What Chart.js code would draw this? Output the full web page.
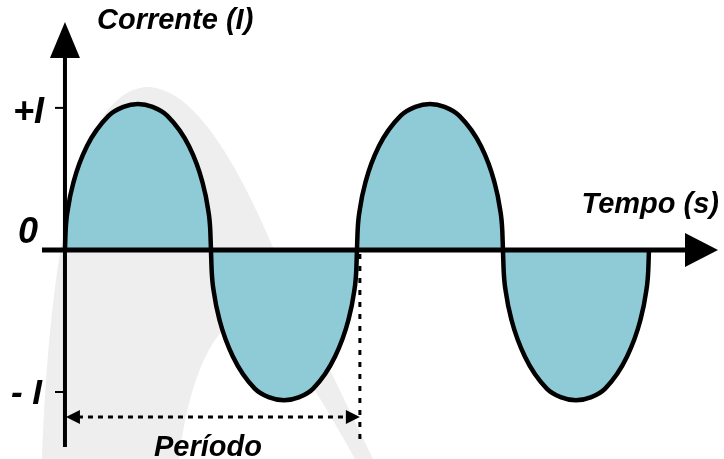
<!doctype html>
<html lang="pt">
<head>
    <meta charset="utf-8">
    <title>Corrente alternada - chartjs</title>
    <script src="https://cdn.jsdelivr.net/npm/chart.js"></script>
    <style>
        html, body { margin: 0; padding: 0; background: #fff; }
        #wrap { width: 724px; height: 459px; position: relative; }
    </style>
</head>
<body>
<div id="wrap"><canvas id="chart-0"></canvas></div>
<script>
    // tempo em meios períodos, corrente em unidades de I
    const tempo = [
        0, 0.005, 0.02, 0.06, 0.15, 0.3, 0.4, 0.5, 0.6, 0.7, 0.85, 0.94, 0.98, 0.995,
        1, 1.005, 1.02, 1.06, 1.15, 1.3, 1.4, 1.5, 1.6, 1.7, 1.85, 1.94, 1.98, 1.995,
        2, 2.005, 2.02, 2.06, 2.15, 2.3, 2.4, 2.5, 2.6, 2.7, 2.85, 2.94, 2.98, 2.995,
        3, 3.005, 3.02, 3.06, 3.15, 3.3, 3.4, 3.5, 3.6, 3.7, 3.85, 3.94, 3.98, 3.995,
        4
    ];
    const corrente = [
        0, 0.14, 0.28, 0.47, 0.71, 0.92, 0.98, 1, 0.98, 0.92, 0.71, 0.47, 0.28, 0.14,
        0, -0.145, -0.29, -0.485, -0.73, -0.95, -1.01, -1.03, -1.01, -0.95, -0.73, -0.485, -0.29, -0.145,
        0, 0.14, 0.28, 0.47, 0.71, 0.92, 0.98, 1, 0.98, 0.92, 0.71, 0.47, 0.28, 0.14,
        0, -0.145, -0.29, -0.485, -0.73, -0.95, -1.01, -1.03, -1.01, -0.95, -0.73, -0.485, -0.29, -0.145,
        0
    ];
    const tickValores = [0.973, 0, -0.973];
    const tickRotulos = ['+I', '0', '- I'];
    const periodo = [0, 2.02];

    const FONTE = '"Liberation Sans", Arial, sans-serif';

    // marca d'água cinza ao fundo
    const fundoPlugin = {
        id: 'fundo',
        beforeDatasetsDraw(chart) {
            const ctx = chart.ctx;
            ctx.save();
            ctx.fillStyle = '#eeeeee';
            ctx.beginPath();
            ctx.moveTo(42, 459);
            ctx.bezierCurveTo(50, 260, 75, 95, 145, 87);
            ctx.bezierCurveTo(195, 85, 240, 170, 273, 247);
            ctx.quadraticCurveTo(315, 340, 373, 459);
            ctx.closePath();
            ctx.fill();
            ctx.fillStyle = '#ffffff';
            ctx.beginPath();
            ctx.moveTo(179, 459);
            ctx.bezierCurveTo(190, 365, 225, 295, 268, 325);
            ctx.quadraticCurveTo(300, 360, 355, 459);
            ctx.closePath();
            ctx.fill();
            ctx.restore();
        }
    };

    function seta(ctx, x1, y1, x2, y2, comp, larg) {
        // ponta em (x2,y2)
        const a = Math.atan2(y2 - y1, x2 - x1);
        ctx.beginPath();
        ctx.moveTo(x2, y2);
        ctx.lineTo(x2 - comp * Math.cos(a) + larg * Math.sin(a), y2 - comp * Math.sin(a) - larg * Math.cos(a));
        ctx.lineTo(x2 - comp * Math.cos(a) - larg * Math.sin(a), y2 - comp * Math.sin(a) + larg * Math.cos(a));
        ctx.closePath();
        ctx.fill();
    }

    const eixosPlugin = {
        id: 'eixos',
        afterDatasetsDraw(chart) {
            const ctx = chart.ctx;
            const sx = chart.scales.x, sy = chart.scales.y;
            const x0 = sx.getPixelForValue(0), y0 = sy.getPixelForValue(0);
            ctx.save();
            ctx.fillStyle = '#000';
            ctx.strokeStyle = '#000';
            ctx.lineCap = 'butt';

            // eixo do tempo
            ctx.lineWidth = 5;
            ctx.beginPath();
            ctx.moveTo(42, y0);
            ctx.lineTo(690, y0);
            ctx.stroke();
            seta(ctx, 42, y0, 718, y0, 33, 17);

            // eixo da corrente
            ctx.lineWidth = 4;
            ctx.beginPath();
            ctx.moveTo(x0, 447);
            ctx.lineTo(x0, 52);
            ctx.stroke();
            seta(ctx, x0, 447, x0, 22, 36, 15);

            // marcas e rótulos
            ctx.lineWidth = 2;
            const px = [44, 38, 42];
            const tam = [36, 36, 35];
            const dy = [15, -7, 12];
            tickValores.forEach((v, i) => {
                const y = sy.getPixelForValue(v);
                if (v !== 0) {
                    ctx.beginPath();
                    ctx.moveTo(x0 - 10, y);
                    ctx.lineTo(x0, y);
                    ctx.stroke();
                }
                ctx.font = `italic bold ${tam[i]}px ${FONTE}`;
                ctx.textAlign = 'right';
                ctx.textBaseline = 'alphabetic';
                ctx.fillText(tickRotulos[i], px[i], y + dy[i]);
            });

            // período
            const pa = sx.getPixelForValue(periodo[0]) + 1;
            const pb = sx.getPixelForValue(periodo[1]);
            const yp = 417;
            ctx.lineWidth = 3;
            ctx.setLineDash([5, 5]);
            ctx.beginPath();
            ctx.moveTo(pa + 12, yp);
            ctx.lineTo(pb - 12, yp);
            ctx.stroke();
            ctx.setLineDash([5, 7]);
            ctx.beginPath();
            ctx.moveTo(pb, y0 + 4);
            ctx.lineTo(pb, 440);
            ctx.stroke();
            ctx.setLineDash([]);
            seta(ctx, pb, yp, pa, yp, 14, 7);
            seta(ctx, pa, yp, pb, yp, 14, 7);

            // títulos
            ctx.font = `italic bold 29px ${FONTE}`;
            ctx.textAlign = 'left';
            ctx.fillText('Corrente (I)', 97, 29);
            ctx.textAlign = 'right';
            ctx.fillText('Tempo (s)', 719, 213);
            ctx.textAlign = 'center';
            ctx.fillText('Período', 208, 456);
            ctx.restore();
        }
    };

    window.addEventListener('load', () => {
        const ctx = document.querySelector('canvas#chart-0');
        window.myChart0 = new Chart(ctx, {
            type: 'line',
            data: {
                datasets: [{
                    label: 'Corrente',
                    data: tempo.map((t, i) => ({ x: t, y: corrente[i] })),
                    borderColor: '#000',
                    borderWidth: 4.5,
                    backgroundColor: '#8fcbd7',
                    fill: 'origin',
                    pointRadius: 0,
                    cubicInterpolationMode: 'monotone',
                    borderJoinStyle: 'round'
                }]
            },
            options: {
                responsive: true,
                maintainAspectRatio: false,
                animation: false,
                events: [],
                layout: { padding: 0 },
                plugins: {
                    legend: { display: false },
                    tooltip: { enabled: false }
                },
                scales: {
                    x: { type: 'linear', display: false, min: -0.445, max: 4.514 },
                    y: { type: 'linear', display: false, min: -1.432, max: 1.712 }
                }
            },
            plugins: [fundoPlugin, eixosPlugin]
        });
    });
</script>
</body>
</html>
